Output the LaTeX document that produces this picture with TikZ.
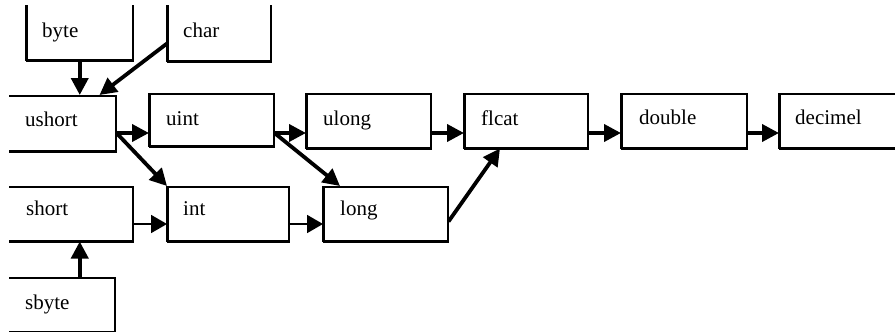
\documentclass[tikz,border=0pt]{standalone}
\usepackage{fontspec}
\setmainfont{Liberation Serif}
\newfontfamily\tnr{Liberation Serif}
\usetikzlibrary{arrows.meta}
\begin{document}
\begin{tikzpicture}[x=1pt,y=-1pt,
  box/.style={draw=black, line width=1.5pt, fill=none, inner sep=0pt, anchor=north west},
  lbl/.style={anchor=base west, inner sep=0pt, font=\tnr\fontsize{21}{24}\selectfont},
  heavy/.style={line width=3.8pt},
  side/.style={line width=2.6pt},
  arr/.style={line width=3.8pt, -{Triangle[length=17pt,width=17pt]}},
  tarr/.style={line width=1.8pt, -{Triangle[length=16pt,width=18pt]}}]
\useasboundingbox (0,0) rectangle (895,332);
\clip (9,5) rectangle (895,331.5);
% boxes
\node[box, minimum width=106pt, minimum height=69pt] (byte) at (26,-10) {};
\node[box, minimum width=103pt, minimum height=70pt] (char) at (167,-10) {};
\node[box, minimum width=125pt, minimum height=55pt] (ushort) at (-10,95) {};
\node[box, minimum width=124pt, minimum height=52pt] (uint) at (149,93) {};
\node[box, minimum width=124pt, minimum height=54pt] (ulong) at (306,93) {};
\node[box, minimum width=123pt, minimum height=54pt] (flcat) at (464,93) {};
\node[box, minimum width=125pt, minimum height=54pt] (double) at (621,93) {};
\node[box, minimum width=131pt, minimum height=54pt] (decimel) at (779,93) {};
\node[box, minimum width=142pt, minimum height=54pt] (short) at (-10,186) {};
\node[box, minimum width=121pt, minimum height=54pt] (int) at (167,186) {};
\node[box, minimum width=124pt, minimum height=54pt] (long) at (323,186) {};
\node[box, minimum width=124pt, minimum height=54pt] (sbyte) at (-10,277) {};
% heavy bottom and left edges
\foreach \b in {byte,char,ushort,uint,ulong,flcat,double,decimel,short,int,long,sbyte}{
  \draw[heavy] (\b.south west) -- (\b.south east);
  \draw[side] (\b.south west) -- (\b.north west);
}
% labels
\node[lbl] (byte-t) at (42,37) {byte};
\node[lbl] (char-t) at (183,37) {char};
\node[lbl] (ushort-t) at (25,126) {ushort};
\node[lbl] (uint-t) at (166,125) {uint};
\node[lbl] (ulong-t) at (323,125) {ulong};
\node[lbl] (flcat-t) at (481,125) {flcat};
\node[lbl] (double-t) at (639,124) {double};
\node[lbl] (decimel-t) at (795,124) {decimel};
\node[lbl] (short-t) at (26,215) {short};
\node[lbl] (int-t) at (183,215) {int};
\node[lbl] (long-t) at (340,215) {long};
\node[lbl] (sbyte-t) at (25,309) {sbyte};
% row coordinates
\coordinate (r1) at (0,133);
\coordinate (r2) at (0,224);
% connectors
\draw[arr] (byte.south) -- (byte.south |- ushort.north);
\draw[arr] ([yshift=18pt]char.south west) -- ([xshift=-17pt]ushort.north east);
\draw[arr] (ushort.east |- r1) -- (uint.west |- r1);
\draw[arr] (ushort.east |- r1) -- (int.north west);
\draw[arr] (uint.east |- r1) -- (ulong.west |- r1);
\draw[arr] (uint.east |- r1) -- ([xshift=17pt]long.north west);
\draw[arr] (ulong.east |- r1) -- (flcat.west |- r1);
\draw[arr] ([yshift=20pt]long.south east) -- ([xshift=36pt]flcat.south west);
\draw[arr] (flcat.east |- r1) -- (double.west |- r1);
\draw[arr] (double.east |- r1) -- (decimel.west |- r1);
\draw[tarr] (short.east |- r2) -- (int.west |- r2);
\draw[tarr] (int.east |- r2) -- (long.west |- r2);
\draw[arr] (byte.south |- sbyte.north) -- (byte.south |- short.south);
\end{tikzpicture}
\end{document}
